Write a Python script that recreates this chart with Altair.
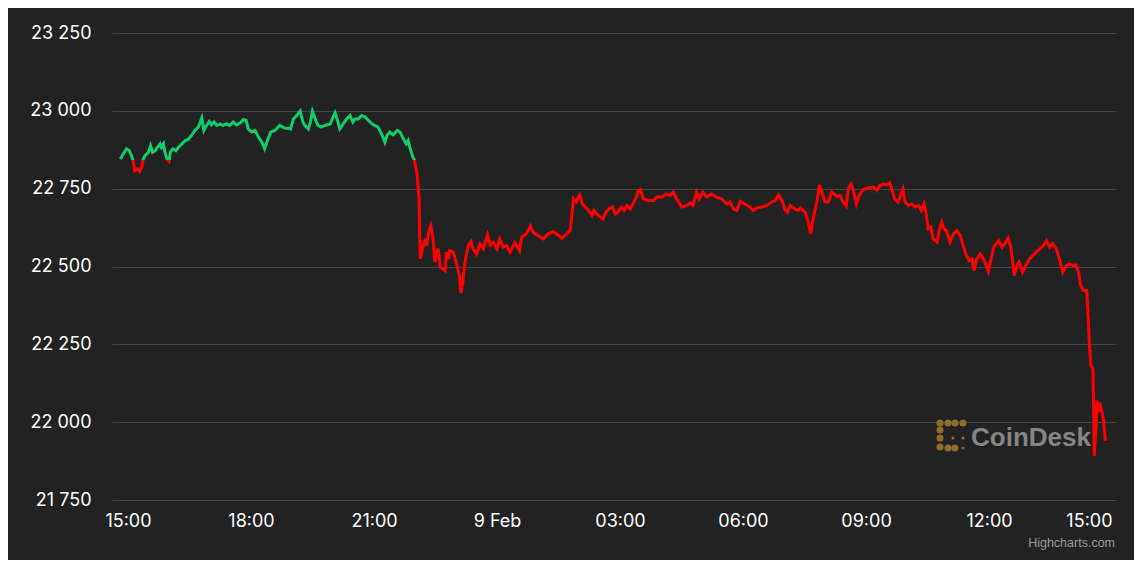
import altair as alt
import pandas as pd

# ---- data (BTC/USD, 8-9 Feb) ----
times = [
    "2023-02-08T14:49", "2023-02-08T14:53", "2023-02-08T14:58", "2023-02-08T15:02", "2023-02-08T15:05",
    "2023-02-08T15:08", "2023-02-08T15:10", "2023-02-08T15:14", "2023-02-08T15:17", "2023-02-08T15:20",
    "2023-02-08T15:22", "2023-02-08T15:25", "2023-02-08T15:30", "2023-02-08T15:33", "2023-02-08T15:36",
    "2023-02-08T15:40", "2023-02-08T15:43", "2023-02-08T15:47", "2023-02-08T15:49", "2023-02-08T15:52",
    "2023-02-08T15:54", "2023-02-08T15:57", "2023-02-08T16:00", "2023-02-08T16:02", "2023-02-08T16:06",
    "2023-02-08T16:10", "2023-02-08T16:14", "2023-02-08T16:19", "2023-02-08T16:23", "2023-02-08T16:28",
    "2023-02-08T16:33", "2023-02-08T16:38", "2023-02-08T16:43", "2023-02-08T16:48", "2023-02-08T16:51",
    "2023-02-08T16:55", "2023-02-08T16:59", "2023-02-08T17:02", "2023-02-08T17:06", "2023-02-08T17:10",
    "2023-02-08T17:15", "2023-02-08T17:19", "2023-02-08T17:24", "2023-02-08T17:29", "2023-02-08T17:34",
    "2023-02-08T17:39", "2023-02-08T17:44", "2023-02-08T17:49", "2023-02-08T17:53", "2023-02-08T17:56",
    "2023-02-08T18:01", "2023-02-08T18:06", "2023-02-08T18:11", "2023-02-08T18:16", "2023-02-08T18:20",
    "2023-02-08T18:25", "2023-02-08T18:29", "2023-02-08T18:35", "2023-02-08T18:42", "2023-02-08T18:50",
    "2023-02-08T18:55", "2023-02-08T18:58", "2023-02-08T19:02", "2023-02-08T19:07", "2023-02-08T19:12",
    "2023-02-08T19:16", "2023-02-08T19:19", "2023-02-08T19:24", "2023-02-08T19:27", "2023-02-08T19:30",
    "2023-02-08T19:34", "2023-02-08T19:38", "2023-02-08T19:43", "2023-02-08T19:48", "2023-02-08T19:56",
    "2023-02-08T20:00", "2023-02-08T20:03", "2023-02-08T20:06", "2023-02-08T20:10", "2023-02-08T20:15",
    "2023-02-08T20:20", "2023-02-08T20:25", "2023-02-08T20:29", "2023-02-08T20:32", "2023-02-08T20:37",
    "2023-02-08T20:42", "2023-02-08T20:47", "2023-02-08T20:52", "2023-02-08T20:57", "2023-02-08T21:01",
    "2023-02-08T21:06", "2023-02-08T21:11", "2023-02-08T21:16", "2023-02-08T21:19", "2023-02-08T21:23",
    "2023-02-08T21:28", "2023-02-08T21:34", "2023-02-08T21:38", "2023-02-08T21:43", "2023-02-08T21:47",
    "2023-02-08T21:50", "2023-02-08T21:53", "2023-02-08T21:57", "2023-02-08T21:59", "2023-02-08T22:03",
    "2023-02-08T22:06", "2023-02-08T22:07", "2023-02-08T22:08", "2023-02-08T22:11", "2023-02-08T22:15",
    "2023-02-08T22:17", "2023-02-08T22:20", "2023-02-08T22:23", "2023-02-08T22:25", "2023-02-08T22:27",
    "2023-02-08T22:29", "2023-02-08T22:32", "2023-02-08T22:34", "2023-02-08T22:37", "2023-02-08T22:41",
    "2023-02-08T22:44", "2023-02-08T22:46", "2023-02-08T22:49", "2023-02-08T22:51", "2023-02-08T22:56",
    "2023-02-08T23:01", "2023-02-08T23:05", "2023-02-08T23:07", "2023-02-08T23:10", "2023-02-08T23:13",
    "2023-02-08T23:18", "2023-02-08T23:22", "2023-02-08T23:25", "2023-02-08T23:30", "2023-02-08T23:35",
    "2023-02-08T23:40", "2023-02-08T23:46", "2023-02-08T23:50", "2023-02-08T23:55", "2023-02-09T00:00",
    "2023-02-09T00:04", "2023-02-09T00:09", "2023-02-09T00:14", "2023-02-09T00:19", "2023-02-09T00:26",
    "2023-02-09T00:33", "2023-02-09T00:36", "2023-02-09T00:43", "2023-02-09T00:49", "2023-02-09T00:53",
    "2023-02-09T01:00", "2023-02-09T01:08", "2023-02-09T01:15", "2023-02-09T01:22", "2023-02-09T01:27",
    "2023-02-09T01:35", "2023-02-09T01:42", "2023-02-09T01:47", "2023-02-09T01:49", "2023-02-09T01:52",
    "2023-02-09T01:56", "2023-02-09T01:59", "2023-02-09T02:01", "2023-02-09T02:05", "2023-02-09T02:09",
    "2023-02-09T02:14", "2023-02-09T02:19", "2023-02-09T02:22", "2023-02-09T02:28", "2023-02-09T02:35",
    "2023-02-09T02:39", "2023-02-09T02:45", "2023-02-09T02:49", "2023-02-09T02:53", "2023-02-09T02:57",
    "2023-02-09T03:02", "2023-02-09T03:06", "2023-02-09T03:10", "2023-02-09T03:15", "2023-02-09T03:19",
    "2023-02-09T03:24", "2023-02-09T03:27", "2023-02-09T03:30", "2023-02-09T03:34", "2023-02-09T03:41",
    "2023-02-09T03:49", "2023-02-09T03:54", "2023-02-09T04:01", "2023-02-09T04:08", "2023-02-09T04:13",
    "2023-02-09T04:18", "2023-02-09T04:23", "2023-02-09T04:30", "2023-02-09T04:38", "2023-02-09T04:43",
    "2023-02-09T04:47", "2023-02-09T04:52", "2023-02-09T04:56", "2023-02-09T05:01", "2023-02-09T05:07",
    "2023-02-09T05:14", "2023-02-09T05:21", "2023-02-09T05:29", "2023-02-09T05:36", "2023-02-09T05:41",
    "2023-02-09T05:46", "2023-02-09T05:51", "2023-02-09T05:56", "2023-02-09T06:03", "2023-02-09T06:10",
    "2023-02-09T06:15", "2023-02-09T06:20", "2023-02-09T06:27", "2023-02-09T06:35", "2023-02-09T06:42",
    "2023-02-09T06:47", "2023-02-09T06:52", "2023-02-09T06:57", "2023-02-09T07:01", "2023-02-09T07:05",
    "2023-02-09T07:09", "2023-02-09T07:16", "2023-02-09T07:21", "2023-02-09T07:24", "2023-02-09T07:31",
    "2023-02-09T07:35", "2023-02-09T07:39", "2023-02-09T07:44", "2023-02-09T07:48", "2023-02-09T07:52",
    "2023-02-09T07:57", "2023-02-09T08:00", "2023-02-09T08:05", "2023-02-09T08:10", "2023-02-09T08:17",
    "2023-02-09T08:22", "2023-02-09T08:26", "2023-02-09T08:31", "2023-02-09T08:34", "2023-02-09T08:38",
    "2023-02-09T08:41", "2023-02-09T08:46", "2023-02-09T08:50", "2023-02-09T08:56", "2023-02-09T09:03",
    "2023-02-09T09:11", "2023-02-09T09:16", "2023-02-09T09:20", "2023-02-09T09:26", "2023-02-09T09:30",
    "2023-02-09T09:35", "2023-02-09T09:39", "2023-02-09T09:42", "2023-02-09T09:47", "2023-02-09T09:54",
    "2023-02-09T09:57", "2023-02-09T10:02", "2023-02-09T10:07", "2023-02-09T10:12", "2023-02-09T10:17",
    "2023-02-09T10:21", "2023-02-09T10:25", "2023-02-09T10:28", "2023-02-09T10:31", "2023-02-09T10:35",
    "2023-02-09T10:38", "2023-02-09T10:44", "2023-02-09T10:47", "2023-02-09T10:51", "2023-02-09T10:54",
    "2023-02-09T10:58", "2023-02-09T11:03", "2023-02-09T11:08", "2023-02-09T11:13", "2023-02-09T11:18",
    "2023-02-09T11:22", "2023-02-09T11:27", "2023-02-09T11:31", "2023-02-09T11:35", "2023-02-09T11:38",
    "2023-02-09T11:42", "2023-02-09T11:47", "2023-02-09T11:52", "2023-02-09T11:56", "2023-02-09T11:59",
    "2023-02-09T12:03", "2023-02-09T12:07", "2023-02-09T12:14", "2023-02-09T12:19", "2023-02-09T12:23",
    "2023-02-09T12:28", "2023-02-09T12:32", "2023-02-09T12:37", "2023-02-09T12:41", "2023-02-09T12:44",
    "2023-02-09T12:49", "2023-02-09T12:54", "2023-02-09T12:59", "2023-02-09T13:04", "2023-02-09T13:09",
    "2023-02-09T13:15", "2023-02-09T13:20", "2023-02-09T13:24", "2023-02-09T13:29", "2023-02-09T13:33",
    "2023-02-09T13:38", "2023-02-09T13:43", "2023-02-09T13:48", "2023-02-09T13:53", "2023-02-09T13:58",
    "2023-02-09T14:03", "2023-02-09T14:07", "2023-02-09T14:11", "2023-02-09T14:14", "2023-02-09T14:18",
    "2023-02-09T14:23", "2023-02-09T14:25", "2023-02-09T14:27", "2023-02-09T14:29", "2023-02-09T14:32",
    "2023-02-09T14:33", "2023-02-09T14:34", "2023-02-09T14:37", "2023-02-09T14:38", "2023-02-09T14:41",
    "2023-02-09T14:43", "2023-02-09T14:46", "2023-02-09T14:48", "2023-02-09T14:50", "2023-02-09T14:51",
]
prices = [
    22845, 22862, 22878, 22872, 22856, 22835, 22808, 22814, 22805, 22819,
    22843, 22856, 22867, 22888, 22867, 22872, 22883, 22894, 22883, 22894,
    22867, 22846, 22838, 22867, 22878, 22872, 22883, 22894, 22903, 22908,
    22921, 22937, 22948, 22977, 22937, 22953, 22966, 22955, 22964, 22953,
    22958, 22953, 22958, 22953, 22964, 22955, 22961, 22972, 22969, 22942,
    22932, 22937, 22915, 22899, 22878, 22910, 22932, 22937, 22953, 22944,
    22944, 22942, 22974, 22985, 22999, 22964, 22953, 22942, 22964, 22998,
    22974, 22953, 22948, 22953, 22958, 22980, 22994, 22974, 22942, 22958,
    22974, 22985, 22964, 22974, 22974, 22985, 22980, 22969, 22958, 22953,
    22948, 22926, 22899, 22921, 22932, 22923, 22937, 22932, 22910, 22894,
    22905, 22878, 22851, 22843, 22798, 22717, 22589, 22525, 22557, 22589,
    22567, 22610, 22631, 22610, 22578, 22514, 22546, 22557, 22498, 22492,
    22487, 22546, 22524, 22551, 22546, 22508, 22471, 22415, 22450, 22514,
    22567, 22580, 22557, 22540, 22573, 22557, 22602, 22569, 22578, 22557,
    22589, 22562, 22567, 22546, 22576, 22551, 22594, 22605, 22630, 22610,
    22599, 22589, 22605, 22612, 22605, 22591, 22605, 22615, 22653, 22717,
    22707, 22723, 22730, 22701, 22691, 22680, 22664, 22680, 22664, 22653,
    22674, 22687, 22691, 22669, 22674, 22691, 22680, 22696, 22685, 22701,
    22723, 22744, 22747, 22717, 22712, 22712, 22723, 22723, 22733, 22728,
    22739, 22717, 22691, 22696, 22704, 22696, 22739, 22717, 22739, 22723,
    22733, 22723, 22717, 22701, 22707, 22685, 22680, 22709, 22701, 22691,
    22680, 22688, 22691, 22696, 22707, 22712, 22730, 22712, 22685, 22674,
    22696, 22685, 22680, 22688, 22674, 22647, 22605, 22669, 22707, 22762,
    22728, 22707, 22707, 22739, 22726, 22728, 22709, 22694, 22749, 22765,
    22749, 22701, 22728, 22747, 22752, 22755, 22744, 22760, 22765, 22762,
    22769, 22739, 22717, 22707, 22749, 22707, 22696, 22701, 22691, 22696,
    22680, 22701, 22669, 22621, 22626, 22589, 22578, 22615, 22642, 22621,
    22615, 22578, 22605, 22615, 22599, 22567, 22535, 22519, 22524, 22487,
    22524, 22540, 22524, 22503, 22484, 22524, 22562, 22583, 22562, 22573,
    22591, 22562, 22471, 22503, 22514, 22482, 22503, 22524, 22535, 22546,
    22557, 22569, 22583, 22562, 22573, 22559, 22524, 22482, 22503, 22508,
    22503, 22505, 22482, 22439, 22423, 22423, 22342, 22246, 22182, 22171,
    22064, 21892, 22000, 22069, 22042, 22053, 22026, 22000, 21941, 21947,
]
open_price = 22843          # colour threshold: green above, red below
y_ticks = [21750, 22000, 22250, 22500, 22750, 23000, 23250]
x_ticks = ["2023-02-08T15:00", "2023-02-08T18:00", "2023-02-08T21:00", "2023-02-09T00:00",
           "2023-02-09T03:00", "2023-02-09T06:00", "2023-02-09T09:00", "2023-02-09T12:00",
           "2023-02-09T15:00"]
x_range = ["2023-02-08T14:36:36", "2023-02-09T15:05:48"]

GREEN = "#10cf6a"
RED = "#ff0000"
BG = "#222222"
FONT = "Inter"
DECOR_FONT = "Liberation Sans"


def ms(s):
    return int(pd.Timestamp(s, tz="UTC").value // 10**6)


df = pd.DataFrame({"t": [ms(s) for s in times], "price": prices})

pmax, pmin = max(prices), min(prices)
cut = (pmax - open_price) / (pmax - pmin)

line_stroke = alt.Gradient(
    gradient="linear",
    x1=0, x2=0, y1=0, y2=1,
    stops=[
        alt.GradientStop(color=GREEN, offset=0),
        alt.GradientStop(color=GREEN, offset=cut),
        alt.GradientStop(color=RED, offset=cut),
        alt.GradientStop(color=RED, offset=1),
    ],
)

x_enc = alt.X(
    "t:T",
    scale=alt.Scale(type="utc", domain=[ms(s) for s in x_range]),
    axis=alt.Axis(
        title=None,
        grid=False,
        domain=False,
        ticks=False,
        values=[ms(s) for s in x_ticks],
        labelExpr="utcFormat(datum.value, '%H:%M') == '00:00' ? utcFormat(datum.value, '%-d %b') : utcFormat(datum.value, '%H:%M')",
        labelColor="#ffffff",
        labelFont=FONT,
        labelFontSize=18,
        labelPadding=12,
        labelFlush=6,
        labelOverlap=False,
    ),
)
y_enc = alt.Y(
    "price:Q",
    scale=alt.Scale(domain=[21750, 23250], nice=False, zero=False),
    axis=alt.Axis(
        title=None,
        values=y_ticks,
        grid=True,
        gridColor="#464646",
        gridWidth=1,
        domain=False,
        ticks=False,
        labelExpr="replace(format(datum.value, ','), ',', ' ')",
        labelColor="#ffffff",
        labelFont=FONT,
        labelFontSize=18,
        labelPadding=21,
    ),
)

line = alt.Chart(df).mark_line(stroke=line_stroke, strokeWidth=3, clip=True).encode(x=x_enc, y=y_enc)

# ---- decorations: CoinDesk watermark and credit ----
logo_big = pd.DataFrame({
    "px": [828, 836, 843, 851, 828, 828, 828, 836, 843],
    "py": [390, 390, 390, 390, 397, 405, 414, 415, 415],
})
logo_small = pd.DataFrame({"px": [841, 851, 851], "py": [405, 405, 415]})
logo1 = alt.Chart(logo_big).mark_circle(color="#8c6d2b", opacity=1, size=50).encode(
    x=alt.X("px:Q", scale=None, axis=None), y=alt.Y("py:Q", scale=None, axis=None))
logo2 = alt.Chart(logo_small).mark_circle(color="#8c6d2b", opacity=1, size=9).encode(
    x=alt.X("px:Q", scale=None, axis=None), y=alt.Y("py:Q", scale=None, axis=None))

watermark = alt.Chart(pd.DataFrame({"txt": ["CoinDesk"]})).mark_text(
    font=DECOR_FONT, fontSize=26, fontWeight="bold", color="#858585", align="left", baseline="alphabetic"
).encode(text="txt:N", x=alt.value(859), y=alt.value(413))

credit = alt.Chart(pd.DataFrame({"txt": ["Highcharts.com"]})).mark_text(
    font=DECOR_FONT, fontSize=12.5, color="#9a9a9a", align="right", baseline="middle"
).encode(text="txt:N", x=alt.value(1003), y=alt.value(510))

chart = alt.layer(logo1, logo2, watermark, line, credit).resolve_scale(
    x="independent", y="independent"
).properties(
    width=1004,
    height=467,
    autosize=alt.AutoSizeParams(type="none"),
    padding={"left": 104, "top": 25, "right": 18, "bottom": 60},
    background=BG,
).configure_view(stroke=None)

chart.save("out.html", embed_options={"renderer": "svg", "actions": False})
